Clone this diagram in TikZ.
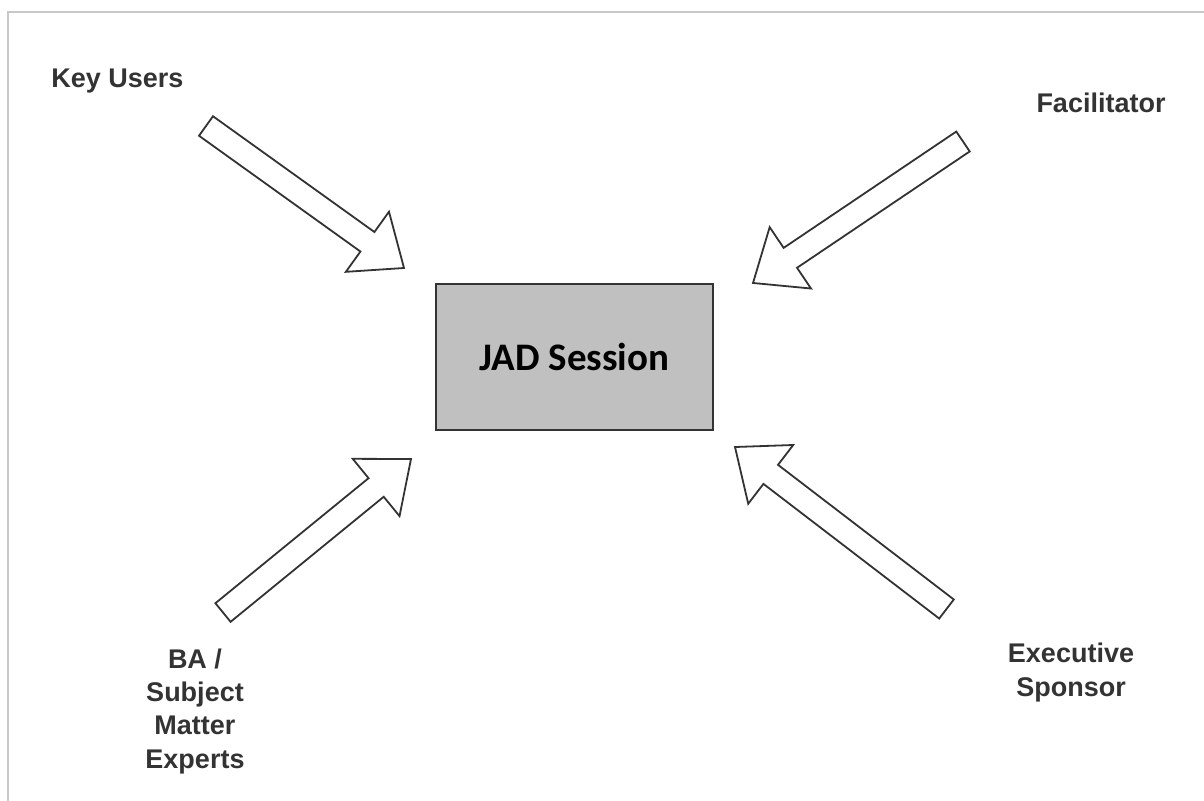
\documentclass[tikz,border=0pt]{standalone}
\usepackage{fontspec}
\setmainfont{Liberation Sans}
\newfontfamily\boxfont{Carlito}
\usetikzlibrary{calc}
\definecolor{colorBox}{HTML}{C0C0C0}
\definecolor{colorText}{HTML}{333333}
\definecolor{colorFrame}{HTML}{C8C8C8}
\tikzset{
    role/.style={font=\fontsize{27}{33.3}\selectfont\bfseries, text=colorText, align=center, inner sep=0pt},
    session/.style={draw=colorText, line width=1.5pt, fill=colorBox, minimum width=277pt, minimum height=146pt, font=\boxfont\fontsize{39}{42}\selectfont\bfseries},
    fatarrow/.style={draw=colorText, line width=1.8pt, fill=white, line join=miter}
}
\newcommand{\fatarrow}[2]{%
    \path let \p1=($(#2)-(#1)$), \n1={atan2(\y1,\x1)}, \n2={veclen(\x1,\y1)} in
        \pgfextra{\xdef\arrowangle{\n1}\xdef\arrowlength{\n2}};
    \begin{scope}[shift={(#1)}, rotate=\arrowangle]
        \draw[fatarrow] (0pt,-12pt) -- (\arrowlength-45pt,-12pt) -- (\arrowlength-45pt,-37pt) -- (\arrowlength+0pt,0pt)
            -- (\arrowlength-45pt,37pt) -- (\arrowlength-45pt,12pt) -- (0pt,12pt) -- cycle;
    \end{scope}}

\begin{document}
\begin{tikzpicture}[x=1pt, y=-1pt]
        \useasboundingbox (0,0) rectangle (1204,800);
        \draw[colorFrame, line width=2pt] (8,810) -- (8,12) -- (1214,12);

        \node[session] (jad) at (574.5,357) {JAD Session};

        \node[role, anchor=base] (ku) at (117.5,87) {Key Users};
        \node[role, anchor=base] (fac) at (1101,112) {Facilitator};
        \node[role, anchor=base] (ba) at (195,768) {BA /\\Subject\\Matter\\Experts};
        \node[role, anchor=base] (exec) at (1071,696) {Executive\\Sponsor};

        \coordinate (ku-tail) at (206,126);
        \coordinate (ku-tip) at (404,268);
        \coordinate (fac-tail) at (963,141.5);
        \coordinate (fac-tip) at (753,283);
        \coordinate (ba-tail) at (223,612.5);
        \coordinate (ba-tip) at (411,459);
        \coordinate (exec-tail) at (946.5,609);
        \coordinate (exec-tip) at (735,447);

        \fatarrow{ku-tail}{ku-tip}
        \fatarrow{fac-tail}{fac-tip}
        \fatarrow{ba-tail}{ba-tip}
        \fatarrow{exec-tail}{exec-tip}
\end{tikzpicture}
\end{document}
